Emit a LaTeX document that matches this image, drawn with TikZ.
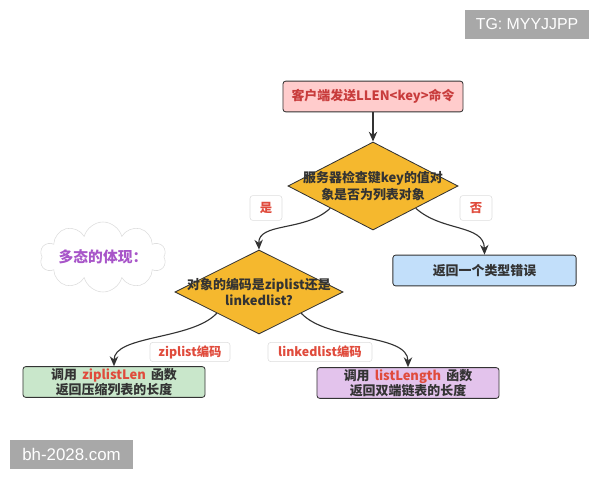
\documentclass[tikz,border=0pt]{standalone}
\usepackage{fontspec}
\setmainfont{Noto Sans CJK SC}
\newfontfamily\wmfont{Liberation Sans}
\usetikzlibrary{shapes.geometric,shapes.symbols,arrows.meta}

\definecolor{lineclr}{HTML}{333333}
\definecolor{pinkfill}{HTML}{FFCCCC}
\definecolor{pinktext}{HTML}{C83C3C}
\definecolor{decfill}{HTML}{F5B82E}
\definecolor{bluefill}{HTML}{C2DFFA}
\definecolor{greenfill}{HTML}{C9E7CB}
\definecolor{violetfill}{HTML}{E3C3EC}
\definecolor{hired}{HTML}{E04B3C}
\definecolor{tagline}{HTML}{DDDDDD}
\definecolor{polytext}{HTML}{A855C9}
\definecolor{wmgray}{HTML}{A8A8A8}

\begin{document}
\begin{tikzpicture}[x=0.025cm,y=-0.025cm,
	box/.style={draw=lineclr,semithick,rounded corners=2pt,align=center,text=lineclr,
		minimum height=0.77cm,inner ysep=0.5pt,font=\fontsize{9.2}{10.8}\selectfont\bfseries},
	decision/.style={diamond,draw=lineclr,semithick,fill=decfill,inner sep=0pt},
	dectext/.style={align=center,text=lineclr,font=\fontsize{9.2}{12}\selectfont\bfseries},
	tag/.style={draw=tagline,fill=white,rounded corners=2pt,text=hired,minimum height=0.48cm,
		inner xsep=5pt,inner ysep=0pt,font=\fontsize{8.8}{10}\selectfont\bfseries},
	flow/.style={-{Stealth[length=7pt,width=6pt]},thick,draw=lineclr},
	wmbox/.style={fill=wmgray,text=white,minimum width=3.1cm,minimum height=0.73cm,inner sep=0pt}]
	\useasboundingbox (0,0) rectangle (600,480);
	
	% request and type check
	\node[box,fill=pinkfill,text=pinktext,minimum width=4.5cm] (req) at (373,96.5) {客户端发送LLEN<key>命令};
	\node[decision,minimum width=4.25cm,minimum height=2.2cm] (chk) at (373,186) {};
	\node[dectext] (chktext) at (chk) {服务器检查键key的值对\\象是否为列表对象};
	\node[box,fill=bluefill,minimum width=4.58cm] (err) at (484.5,270.5) {返回一个类型错误};
	
	% encoding check
	\node[decision,minimum width=4.2cm,minimum height=2.1cm] (poly) at (259,292) {};
	\node[dectext] (polytext) at (poly) {对象的编码是ziplist还是\\linkedlist?};
	\node[box,fill=greenfill,minimum width=4.55cm] (zip) at (114,382) {调用~\,\textcolor{hired}{ziplistLen}~\,函数\\返回压缩列表的长度};
	\node[box,fill=violetfill,minimum width=4.55cm] (lnk) at (408,383) {调用~\,\textcolor{hired}{listLength}~\,函数\\返回双端链表的长度};
	
	% note
	\node[cloud,cloud puffs=10,aspect=2,draw=tagline,fill=white,inner sep=0pt,
		minimum width=3.15cm,minimum height=1.75cm] (note) at (103,257) {};
	\node[text=polytext,font=\fontsize{10.5}{12}\selectfont\bfseries] (notetext) at (note) {多态的体现：};
	
	% connectors
	\draw[flow] (req.south) -- (chk.north);
	\draw[flow] (chk.south west) .. controls (305,232) and (258,222) .. (poly.north);
	\draw[flow] (chk.south east) .. controls (442,232) and (484,224) .. (err.north);
	\draw[flow] (poly.south west) .. controls (192,340) and (114,335) .. (zip.north);
	\draw[flow] (poly.south east) .. controls (328,342) and (408,333) .. (lnk.north);
	
	% branch labels
	\node[tag,minimum width=0.8cm,minimum height=0.62cm] (yes) at (266,208) {是};
	\node[tag,minimum width=0.8cm,minimum height=0.62cm] (no) at (476,208) {否};
	\node[tag,minimum width=2cm] (ziptag) at (190,352) {ziplist编码};
	\node[tag,minimum width=2.6cm] (lnktag) at (320,352) {linkedlist编码};
	
	% watermarks
	\node[wmbox,font=\wmfont\fontsize{11.3}{13}\selectfont] (tg) at (527,24.5) {TG: MYYJJPP};
	\node[wmbox,minimum width=3.08cm,font=\wmfont\fontsize{12}{14}\selectfont] (site) at (71.5,454.5) {bh-2028.com};
\end{tikzpicture}
\end{document}
